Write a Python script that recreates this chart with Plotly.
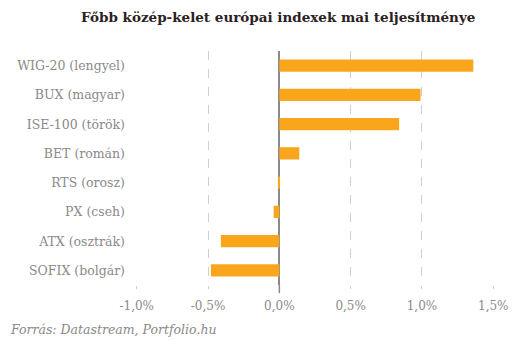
import plotly.graph_objects as go

# Daily change of the main CEE stock indices, in percent
indices = ["WIG-20 (lengyel)", "BUX (magyar)", "ISE-100 (török)", "BET (román)",
           "RTS (orosz)", "PX (cseh)", "ATX (osztrák)", "SOFIX (bolgár)"]
changes = [1.36, 0.99, 0.84, 0.14, -0.01, -0.04, -0.41, -0.48]

tick_values = [-1.0, -0.5, 0.0, 0.5, 1.0, 1.5]
tick_labels = ["-1,0%", "-0,5%", "0,0%", "0,5%", "1,0%", "1,5%"]

fig = go.Figure(
    go.Bar(
        x=changes,
        y=indices,
        orientation="h",
        marker=dict(color="#F9A61C", line=dict(width=0)),
        width=0.42,
    )
)

fig.update_layout(
    width=530,
    height=341,
    margin=dict(l=136, r=36, t=51, b=56),
    paper_bgcolor="white",
    plot_bgcolor="white",
    showlegend=False,
    title=dict(
        text="<b>Főbb közép-kelet európai indexek mai teljesítménye</b>",
        x=0.525,
        xanchor="center",
        y=0.95,
        yanchor="middle",
        font=dict(family="DejaVu Serif", size=13.5, color="#2b2123"),
    ),
    xaxis=dict(
        range=[-1.005, 1.505],
        tickvals=tick_values,
        ticktext=tick_labels,
        showgrid=True,
        gridcolor="#cfcfcf",
        griddash="dash",
        gridwidth=1,
        zeroline=True,
        zerolinecolor="#8a8a8a",
        zerolinewidth=1.5,
        ticks="outside",
        ticklen=3,
        tickcolor="#cfcfcf",
        ticklabelstandoff=7,
        tickfont=dict(family="DejaVu Serif", size=12, color="#8a8a8a"),
        showline=False,
        fixedrange=True,
    ),
    yaxis=dict(
        categoryorder="array",
        categoryarray=indices[::-1],
        range=[-0.5, 7.5],
        showgrid=False,
        zeroline=False,
        showline=False,
        ticks="",
        ticklabelstandoff=10,
        tickfont=dict(family="DejaVu Serif", size=12.5, color="#8a8a8a"),
        fixedrange=True,
    ),
    shapes=[
        # the zero line runs a little past the bottom of the plot area
        dict(
            type="line",
            xref="x",
            yref="paper",
            x0=0,
            x1=0,
            y0=0,
            y1=-0.035,
            line=dict(color="#8a8a8a", width=1.5),
        )
    ],
    annotations=[
        dict(
            text="<i>Forrás: Datastream, Portfolio.hu</i>",
            xref="paper",
            yref="paper",
            x=-128 / 358,
            y=-0.15,
            xanchor="left",
            yanchor="top",
            showarrow=False,
            font=dict(family="DejaVu Serif", size=12.5, color="#8a8a8a"),
        )
    ],
)

fig.write_html("out.html")
